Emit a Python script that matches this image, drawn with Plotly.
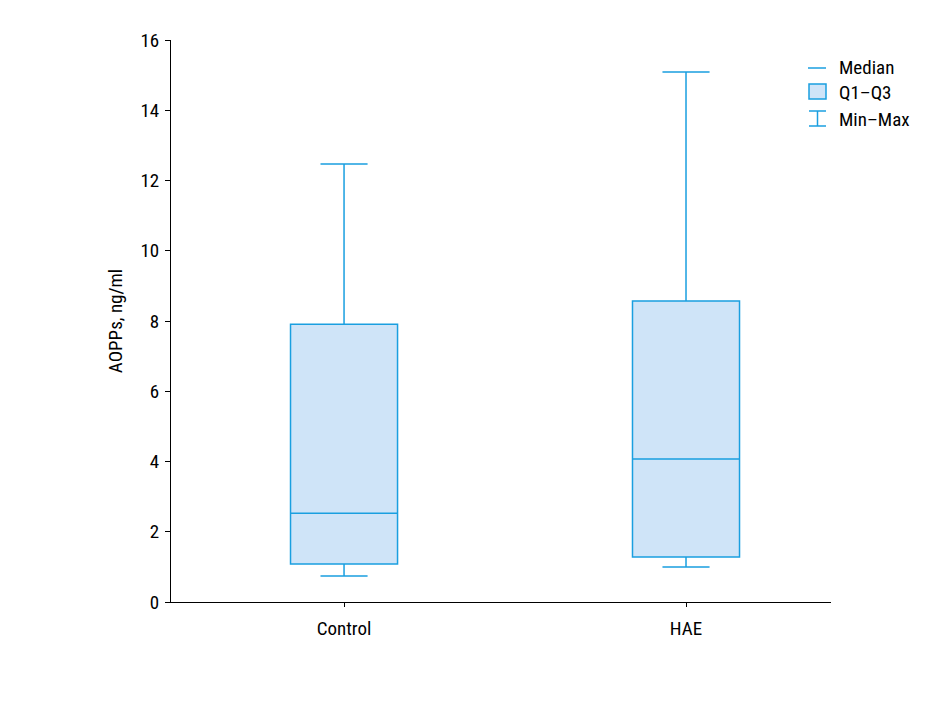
import plotly.graph_objects as go

groups = ["Control", "HAE"]
mins = [0.74, 1.00]
q1s = [1.08, 1.28]
medians = [2.53, 4.07]
q3s = [7.91, 8.57]
maxs = [12.47, 15.09]

y_title = "AOPPs, ng/ml"
legend_labels = ["Median", "Q1\u2013Q3", "Min\u2013Max"]

FONT = "Liberation Sans Narrow, Roboto Condensed, Arial Narrow, Liberation Sans, sans-serif"
LINE = "#1a9fe0"
FILL = "#cfe4f8"
FS = 19

fig = go.Figure()
fig.add_trace(go.Box(
    x=groups, q1=q1s, median=medians, q3=q3s,
    lowerfence=mins, upperfence=maxs,
    fillcolor=FILL, line=dict(color=LINE, width=1.5),
    width=0.313, whiskerwidth=0.44, boxpoints=False,
    showlegend=False, hoverinfo="skip",
))

fig.update_layout(
    width=951, height=701,
    margin=dict(l=171, r=120, t=40, b=99),
    paper_bgcolor="white", plot_bgcolor="white",
    font=dict(family=FONT, size=FS, color="black"),
    xaxis=dict(range=[-0.506, 1.424], showline=True, linecolor="black", linewidth=1,
               ticks="outside", ticklen=4, tickcolor="black", showgrid=False,
               zeroline=False, tickfont=dict(size=FS), ticklabelstandoff=5),
    yaxis=dict(range=[0, 16], dtick=2, showline=True, linecolor="black", linewidth=1,
               ticks="outside", ticklen=5, tickcolor="black", showgrid=False,
               zeroline=False, title=dict(text=y_title, font=dict(size=FS), standoff=12),
               tickfont=dict(size=FS), ticklabelstandoff=2),
)

# Manual legend
def px2paper(x, y):
    return (x - 171) / 660, (602 - y) / 562

shapes = []
annots = []
# Median
x0, y0 = px2paper(808, 68)
x1, _ = px2paper(826, 68)
shapes.append(dict(type="line", xref="paper", yref="paper", x0=x0, x1=x1, y0=y0, y1=y0,
                   line=dict(color=LINE, width=1.5)))
# Q1-Q3 square
a0, b0 = px2paper(809, 99)
a1, b1 = px2paper(826, 84)
shapes.append(dict(type="rect", xref="paper", yref="paper", x0=a0, x1=a1, y0=b0, y1=b1,
                   fillcolor=FILL, line=dict(color=LINE, width=1.5)))
# Min-Max I icon
c0, d0 = px2paper(809, 126)
c1, d1 = px2paper(826, 111)
cm, _ = px2paper(817.5, 111)
shapes.append(dict(type="line", xref="paper", yref="paper", x0=c0, x1=c1, y0=d0, y1=d0,
                   line=dict(color=LINE, width=1.5)))
shapes.append(dict(type="line", xref="paper", yref="paper", x0=c0, x1=c1, y0=d1, y1=d1,
                   line=dict(color=LINE, width=1.5)))
shapes.append(dict(type="line", xref="paper", yref="paper", x0=cm, x1=cm, y0=d0, y1=d1,
                   line=dict(color=LINE, width=1.5)))
for lab, py in zip(legend_labels, [68, 92, 120]):
    tx, ty = px2paper(837, py)
    annots.append(dict(text=lab, xref="paper", yref="paper", x=tx, y=ty, xanchor="left",
                       yanchor="middle", showarrow=False, font=dict(size=FS, family=FONT)))

fig.update_layout(shapes=shapes, annotations=annots)
fig.write_html("out.html")
